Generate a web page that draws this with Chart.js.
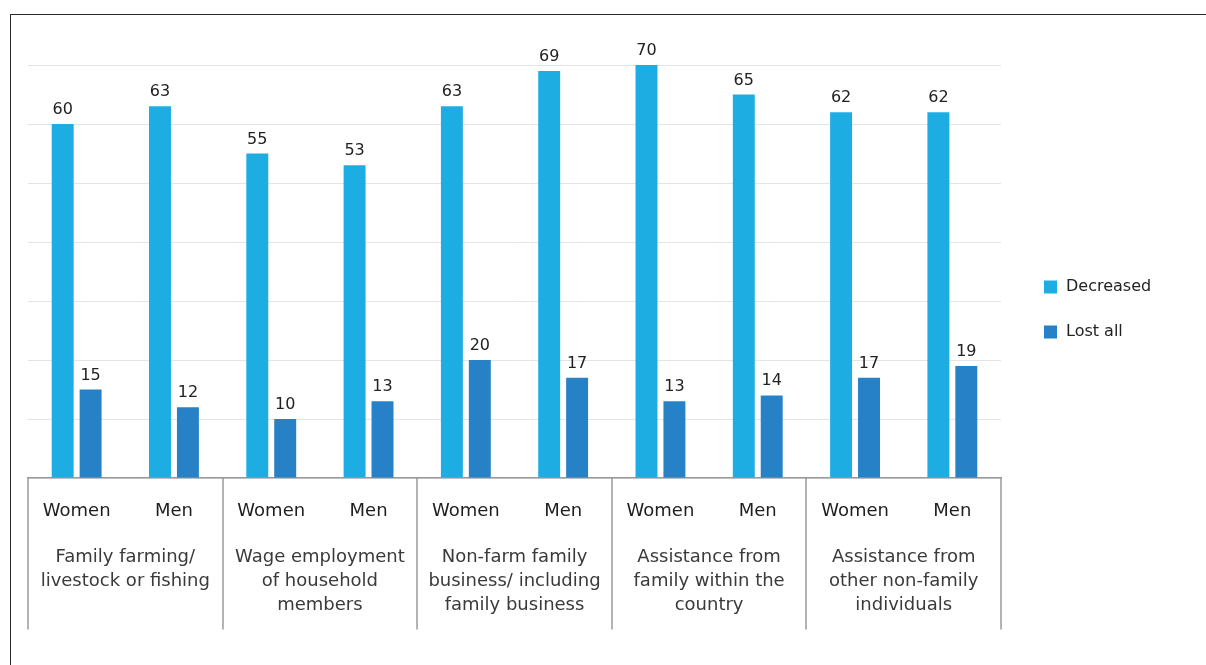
<!DOCTYPE html>
<html>
<head>
<meta charset="utf-8">
<script src="https://cdn.jsdelivr.net/npm/chart.js@4/dist/chart.umd.min.js"></script>
<style>
  html, body { margin: 0; padding: 0; background: #fff; }
  #wrap { position: relative; width: 1206px; height: 665px; overflow: hidden; }
  #c { position: absolute; left: 0; top: 0; }
  #frame { position: absolute; left: 10px; top: 14px; right: -2px; bottom: -2px;
           border-top: 1px solid #2b2b2b; border-left: 1px solid #2b2b2b; pointer-events: none; }
</style>
</head>
<body>
<div id="wrap">
  <canvas id="c" width="1206" height="665"></canvas>
  <div id="frame"></div>
</div>
<script>
// Income sources (group labels, one array entry per line)
const groups = [
  ['Family farming/', 'livestock or fishing'],
  ['Wage employment', 'of household', 'members'],
  ['Non-farm family', 'business/ including', 'family business'],
  ['Assistance from', 'family within the', 'country'],
  ['Assistance from', 'other non-family', 'individuals']
];
const sexes = ['Women', 'Men'];
const categories = groups.flatMap(() => sexes);

// Share of respondents (%)
const decreased = [60, 63, 55, 53, 63, 69, 70, 65, 62, 62];
const lostAll   = [15, 12, 10, 13, 20, 17, 13, 14, 17, 19];

const seriesNames = ['Decreased', 'Lost all'];
const seriesColors = ['#1eade3', '#2781c6'];
const yMin = 0, yMax = 70, yStep = 10;

const FONT = '"DejaVu Sans", "Noto Sans", sans-serif';

// Value labels above each bar
const valueLabels = {
  id: 'valueLabels',
  afterDatasetsDraw(chart) {
    const ctx = chart.ctx;
    ctx.save();
    ctx.font = '16px ' + FONT;
    ctx.fillStyle = '#222';
    ctx.textAlign = 'center';
    ctx.textBaseline = 'alphabetic';
    chart.data.datasets.forEach((ds, di) => {
      chart.getDatasetMeta(di).data.forEach((bar, i) => {
        ctx.fillText(String(ds.data[i]), bar.x, bar.y - 10);
      });
    });
    ctx.restore();
  }
};

// Vertical separators between income-source groups
const groupSeparators = {
  id: 'groupSeparators',
  afterDraw(chart) {
    const xs = chart.scales.x, xg = chart.scales.xGroup;
    const n = groups.length;
    const step = xg.getPixelForValue(1) - xg.getPixelForValue(0);
    const ctx = chart.ctx;
    ctx.save();
    ctx.strokeStyle = '#9a9a9a';
    ctx.lineWidth = 1.5;
    for (let i = 0; i <= n; i++) {
      const px = Math.round(xg.getPixelForValue(0) - step / 2 + i * step);
      ctx.beginPath();
      ctx.moveTo(px, xs.top);
      ctx.lineTo(px, xg.bottom + 12);
      ctx.stroke();
    }
    ctx.restore();
  }
};

// Legend on the right of the plot
const sideLegend = {
  id: 'sideLegend',
  afterDraw(chart) {
    const ctx = chart.ctx;
    const x0 = chart.chartArea.right + 43;
    ctx.save();
    ctx.font = '16px ' + FONT;
    ctx.textBaseline = 'middle';
    ctx.textAlign = 'left';
    chart.data.datasets.forEach((ds, i) => {
      const cy = 287 + i * 45;
      ctx.fillStyle = ds.backgroundColor;
      ctx.fillRect(x0, cy - 6.5, 13, 13);
      ctx.fillStyle = '#222';
      ctx.fillText(ds.label, x0 + 22, cy);
    });
    ctx.restore();
  }
};

new Chart(document.getElementById('c'), {
  type: 'bar',
  data: {
    labels: categories,
    datasets: [
      { label: seriesNames[0], data: decreased, backgroundColor: seriesColors[0] },
      { label: seriesNames[1], data: lostAll, backgroundColor: seriesColors[1] }
    ]
  },
  options: {
    responsive: false,
    devicePixelRatio: 1,
    animation: false,
    categoryPercentage: 0.574,
    barPercentage: 0.786,
    layout: { padding: { left: 28, right: 205, top: 65, bottom: 47.4 } },
    plugins: {
      legend: { display: false },
      tooltip: { enabled: false }
    },
    scales: {
      y: {
        min: yMin, max: yMax,
        ticks: { display: false, stepSize: yStep },
        grid: { color: '#e4e4e4', lineWidth: 1, drawTicks: false },
        border: { display: false }
      },
      x: {
        grid: { display: false, drawTicks: false },
        border: { display: true, color: '#9a9a9a', width: 1.5 },
        ticks: { font: { family: FONT, size: 18, lineHeight: 1.2 }, color: '#1e1e1e',
                 padding: 23, maxRotation: 0, autoSkip: false }
      },
      xGroup: {
        type: 'category',
        position: 'bottom',
        labels: groups,
        offset: true,
        grid: { display: false, drawTicks: false },
        border: { display: false },
        ticks: { font: { family: FONT, size: 18, lineHeight: '24px' }, color: '#3a3a3a',
                 padding: 0, maxRotation: 0, autoSkip: false }
      }
    }
  },
  plugins: [valueLabels, groupSeparators, sideLegend]
});
</script>
</body>
</html>
